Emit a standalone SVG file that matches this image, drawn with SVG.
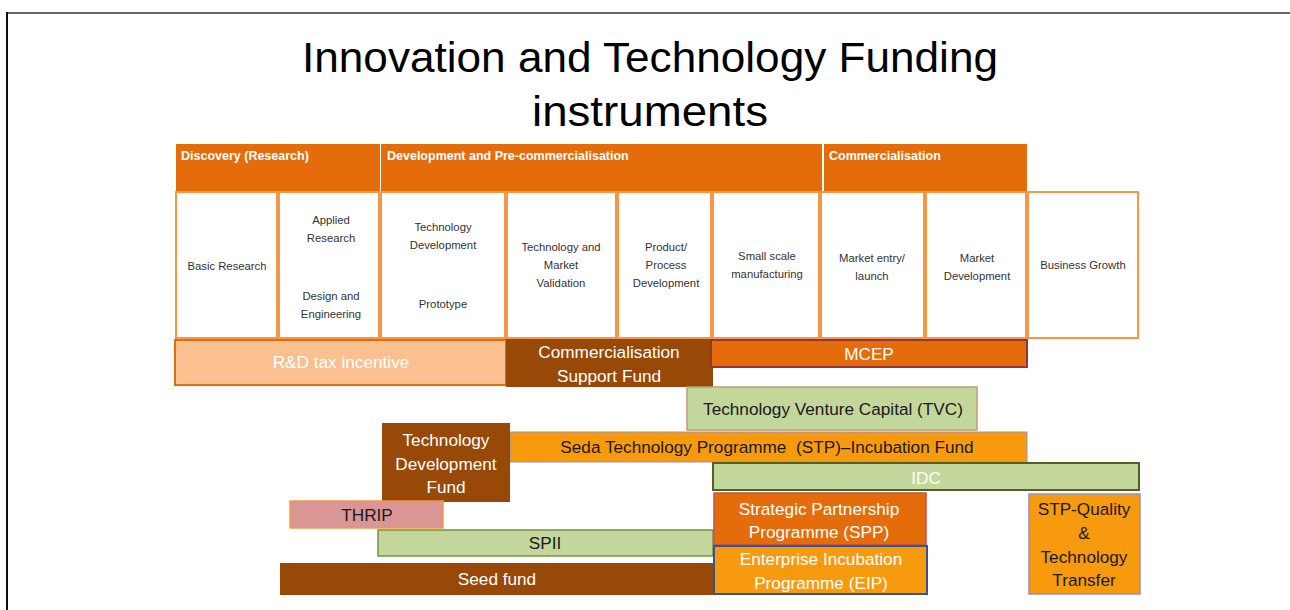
<svg xmlns="http://www.w3.org/2000/svg" width="1290" height="610" viewBox="0 0 1290 610">
<style>
text{font-family:"Liberation Sans","DejaVu Sans",sans-serif;text-anchor:middle}
.title{font-size:42px;fill:#000}
.hdr{fill:#E46C0A}
.hdrt{font-size:12.5px;font-weight:bold;fill:#fff;text-anchor:start}
.cell{fill:#fff;stroke:#F79646;stroke-width:2}
.ct{font-size:11.3px;fill:#333}
.bt{font-size:17.2px}
.w{fill:#fff}
.d{fill:#1a1a1a}
.brown{fill:#984807}
.green{fill:#C3D69B;stroke:#4F6228;stroke-width:2}
.orange{fill:#F79A0E}
</style>
<rect x="0" y="0" width="1290" height="610" fill="#fff"/>
<g id="frame">
<line x1="7" y1="13" x2="1290" y2="13" stroke="#666" stroke-width="2"/>
<line x1="7" y1="12" x2="7" y2="610" stroke="#111" stroke-width="2"/>
</g>
<g id="title">
<text class="title" x="650" y="72" textLength="696" lengthAdjust="spacingAndGlyphs">Innovation and Technology Funding</text>
<text class="title" x="650" y="126" textLength="236" lengthAdjust="spacingAndGlyphs">instruments</text>
</g>
<g id="header-discovery"><rect class="hdr" x="176" y="144" width="204" height="47"/><text class="hdrt" x="181" y="160">Discovery (Research)</text></g>
<g id="header-development"><rect class="hdr" x="381" y="144" width="441" height="47"/><text class="hdrt" x="387" y="160">Development and Pre-commercialisation</text></g>
<g id="header-commercialisation"><rect class="hdr" x="824" y="144" width="203" height="47"/><text class="hdrt" x="829" y="160">Commercialisation</text></g>

<g id="cell-basic"><rect class="cell" x="176" y="192" width="101" height="146"/><text class="ct" x="227" y="270">Basic Research</text></g>
<g id="cell-applied"><rect class="cell" x="279" y="192" width="100" height="146"/><text class="ct" x="331" y="224">Applied</text><text class="ct" x="331" y="242">Research</text><text class="ct" x="331" y="300">Design  and</text><text class="ct" x="331" y="318">Engineering</text></g>
<g id="cell-techdev"><rect class="cell" x="381" y="192" width="124" height="146"/><text class="ct" x="443" y="231">Technology</text><text class="ct" x="443" y="249">Development</text><text class="ct" x="443" y="308">Prototype</text></g>
<g id="cell-validation"><rect class="cell" x="507" y="192" width="109" height="146"/><text class="ct" x="561" y="251">Technology and</text><text class="ct" x="561" y="269">Market</text><text class="ct" x="561" y="287">Validation</text></g>
<g id="cell-product"><rect class="cell" x="618" y="192" width="93" height="146"/><text class="ct" x="666" y="251">Product/</text><text class="ct" x="666" y="269">Process</text><text class="ct" x="666" y="287">Development</text></g>
<g id="cell-smallscale"><rect class="cell" x="713" y="192" width="106" height="146"/><text class="ct" x="767" y="260">Small scale</text><text class="ct" x="767" y="278">manufacturing</text></g>
<g id="cell-marketentry"><rect class="cell" x="821" y="192" width="103" height="146"/><text class="ct" x="872" y="262">Market entry/</text><text class="ct" x="872" y="280">launch</text></g>
<g id="cell-marketdev"><rect class="cell" x="926" y="192" width="100" height="146"/><text class="ct" x="977" y="262">Market</text><text class="ct" x="977" y="280">Development</text></g>
<g id="cell-growth"><rect class="cell" x="1028" y="192" width="110" height="146"/><text class="ct" x="1083" y="269">Business Growth</text></g>

<g id="rd-tax"><rect x="175" y="340" width="331" height="45" fill="#FAC090" stroke="#E46C0A" stroke-width="2"/><text class="bt w" x="341" y="368">R&amp;D tax incentive</text></g>
<g id="csf"><rect class="brown" x="506" y="339" width="207" height="48"/><text class="bt w" x="609" y="358">Commercialisation</text><text class="bt w" x="609" y="382">Support Fund</text></g>
<g id="mcep"><rect x="711" y="340" width="316" height="27" fill="#E46C0A" stroke="#943634" stroke-width="2"/><text class="bt w" x="869" y="360">MCEP</text></g>
<g id="tvc"><rect x="687" y="387" width="290" height="43" fill="#C3D69B" stroke="#C09A7A" stroke-width="1.5"/><text class="bt d" x="833" y="415">Technology Venture Capital (TVC)</text></g>
<g id="seda"><rect class="orange" x="510" y="432" width="517" height="30" stroke="#9A8FC0" stroke-width="1"/><text class="bt d" x="767" y="453" xml:space="preserve" style="white-space:pre">Seda Technology Programme  (STP)–Incubation Fund</text></g>
<g id="tdf"><rect class="brown" x="382" y="423" width="128" height="79"/><text class="bt w" x="446" y="446">Technology</text><text class="bt w" x="446" y="470">Development</text><text class="bt w" x="446" y="493">Fund</text></g>
<g id="idc"><rect class="green" x="713" y="463" width="426" height="27"/><text class="bt w" x="926" y="484">IDC</text></g>
<g id="thrip"><rect x="290" y="501" width="153" height="27" fill="#D99694" stroke="#F79646" stroke-width="1.5"/><text class="bt d" x="367" y="521">THRIP</text></g>
<g id="spii"><rect x="378" y="530" width="335" height="26" fill="#C3D69B" stroke="#77933C" stroke-width="1.5"/><text class="bt d" x="545" y="549">SPII</text></g>
<g id="seed"><rect class="brown" x="280" y="563" width="433" height="32"/><text class="bt w" x="497" y="585">Seed fund</text></g>
<g id="spp"><rect x="714" y="493" width="212" height="52" fill="#E46C0A" stroke="#C0504D" stroke-width="1.5"/><text class="bt w" x="819" y="515">Strategic Partnership</text><text class="bt w" x="819" y="538">Programme (SPP)</text></g>
<g id="eip"><rect class="orange" x="714" y="546" width="213" height="48" stroke="#2F5597" stroke-width="2"/><text class="bt w" x="821" y="565">Enterprise Incubation</text><text class="bt w" x="821" y="589">Programme (EIP)</text></g>
<g id="stp-quality"><rect class="orange" x="1029" y="494" width="111" height="100" stroke="#9A8FC0" stroke-width="1.5"/><text class="bt d" x="1084" y="515">STP-Quality</text><text class="bt d" x="1084" y="539">&amp;</text><text class="bt d" x="1084" y="563">Technology</text><text class="bt d" x="1084" y="586">Transfer</text></g>
<g id="connectors"/>
</svg>
